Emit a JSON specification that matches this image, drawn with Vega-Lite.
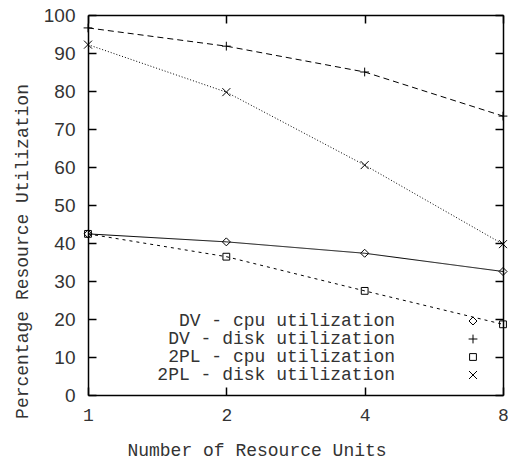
{
  "$schema": "https://vega.github.io/schema/vega-lite/v6.json",
  "width": 415,
  "height": 380,
  "autosize": "none",
  "padding": {"left": 88, "top": 15, "right": 5, "bottom": 65},
  "config": {"view": {"stroke": null}, "font": "Liberation Mono"},
  "data": {
    "values": [
      {"units": 1, "util": 42.4, "series": "DV - cpu utilization"},
      {"units": 2, "util": 40.3, "series": "DV - cpu utilization"},
      {"units": 4, "util": 37.3, "series": "DV - cpu utilization"},
      {"units": 8, "util": 32.5, "series": "DV - cpu utilization"},
      {"units": 1, "util": 96.6, "series": "DV - disk utilization"},
      {"units": 2, "util": 91.8, "series": "DV - disk utilization"},
      {"units": 4, "util": 85.0, "series": "DV - disk utilization"},
      {"units": 8, "util": 73.4, "series": "DV - disk utilization"},
      {"units": 1, "util": 42.4, "series": "2PL - cpu utilization"},
      {"units": 2, "util": 36.4, "series": "2PL - cpu utilization"},
      {"units": 4, "util": 27.4, "series": "2PL - cpu utilization"},
      {"units": 8, "util": 18.6, "series": "2PL - cpu utilization"},
      {"units": 1, "util": 92.2, "series": "2PL - disk utilization"},
      {"units": 2, "util": 79.7, "series": "2PL - disk utilization"},
      {"units": 4, "util": 60.5, "series": "2PL - disk utilization"},
      {"units": 8, "util": 39.7, "series": "2PL - disk utilization"}
    ]
  },
  "layer": [
    {
      "mark": {"type": "point", "filled": false, "color": "black", "strokeWidth": 1, "opacity": 1, "size": 64},
      "encoding": {
        "x": {
          "field": "units", "type": "quantitative",
          "scale": {"type": "log", "base": 2, "domain": [1, 8], "nice": false},
          "axis": {
            "orient": "bottom", "values": [1, 2, 4, 8], "format": "d", "grid": false,
            "ticks": true, "tickSize": -8, "tickColor": "black", "tickWidth": 1.5,
            "domainColor": "black", "domainWidth": 1.5,
            "labelFont": "Liberation Mono", "labelFontSize": 18, "labelColor": "#333",
            "labelPadding": 33, "labelBaseline": "alphabetic", "labelFlush": false, "labelOverlap": false, "labelBound": false,
            "title": "Number of Resource Units", "titleFont": "Liberation Mono", "titleFontSize": 18,
            "titleFontWeight": "normal", "titleColor": "#333",
            "titleX": 168.5, "titleY": 60, "titleBaseline": "alphabetic", "titleAlign": "center", "titleAnchor": null
          }
        },
        "y": {
          "field": "util", "type": "quantitative",
          "scale": {"domain": [0, 100], "nice": false},
          "axis": {
            "orient": "left", "values": [0, 10, 20, 30, 40, 50, 60, 70, 80, 90, 100], "grid": false,
            "ticks": true, "tickSize": -8, "tickColor": "black", "tickWidth": 1.5,
            "domainColor": "black", "domainWidth": 1.5,
            "labelFont": "Liberation Sans", "labelFontSize": 19, "labelColor": "#333",
            "labelPadding": 21, "labelBaseline": "middle", "labelFlush": false, "labelOverlap": false, "labelBound": false,
            "title": "Percentage Resource Utilization", "titleFont": "Liberation Mono", "titleFontSize": 18,
            "titleFontWeight": "normal", "titleColor": "#333", "titleAngle": 270,
            "titleX": -61, "titleY": 236, "titleBaseline": "alphabetic", "titleAlign": "center", "titleAnchor": null
          }
        },
        "shape": {
          "field": "series", "type": "nominal",
          "scale": {
            "domain": ["DV - cpu utilization", "DV - disk utilization", "2PL - cpu utilization", "2PL - disk utilization"],
            "range": ["diamond", "M-1.1,0H1.1M0,-1.1V1.1", "M-0.85,-0.85H0.85V0.85H-0.85Z", "M-1,-1L1,1M-1,1L1,-1"]
          },
          "legend": {
            "orient": "none", "legendX": 376, "legendY": 297, "title": null, "padding": 0,
            "labelFont": "Liberation Mono", "labelFontSize": 18, "labelColor": "#333",
            "labelAlign": "right", "labelOffset": -87, "labelLimit": 400, "rowPadding": -3.5,
            "symbolSize": 64, "symbolStrokeColor": "black", "symbolFillColor": "transparent", "symbolStrokeWidth": 1
          }
        }
      }
    },
    {
      "mark": {"type": "line", "color": "black", "strokeWidth": 1},
      "encoding": {
        "x": {
          "field": "units", "type": "quantitative",
          "scale": {"type": "log", "base": 2, "domain": [1, 8], "nice": false},
          "axis": {
            "orient": "top", "values": [1, 2, 4, 8], "grid": false, "labels": false, "title": null,
            "ticks": true, "tickSize": -8, "tickColor": "black", "tickWidth": 1.5,
            "domainColor": "black", "domainWidth": 1.5
          }
        },
        "y": {
          "field": "util", "type": "quantitative",
          "scale": {"domain": [0, 100], "nice": false},
          "axis": {
            "orient": "right", "values": [0, 10, 20, 30, 40, 50, 60, 70, 80, 90, 100], "grid": false, "labels": false, "title": null,
            "ticks": true, "tickSize": -8, "tickColor": "black", "tickWidth": 1.5,
            "domainColor": "black", "domainWidth": 1.5
          }
        },
        "strokeDash": {
          "field": "series", "type": "nominal",
          "scale": {
            "domain": ["DV - disk utilization", "DV - cpu utilization", "2PL - cpu utilization", "2PL - disk utilization"],
            "range": [[6, 4], [1, 0], [3, 4], [1, 2]]
          },
          "legend": null
        }
      }
    }
  ],
  "resolve": {"axis": {"x": "independent", "y": "independent"}}
}
